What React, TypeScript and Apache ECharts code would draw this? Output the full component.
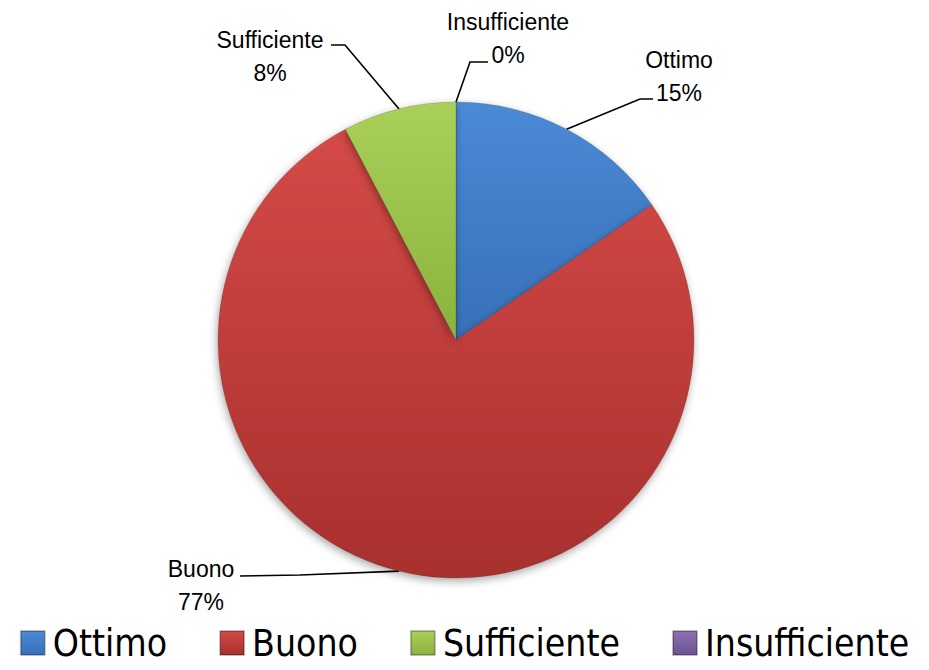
import React, { useEffect, useRef } from "react";
import * as echarts from "echarts";

const categories = ["Ottimo", "Buono", "Sufficiente", "Insufficiente"];
const counts = [2, 10, 1, 0];

const topColors = ["#4b8ad6", "#d44a47", "#a9d058", "#8c70b0"];
const bottomColors = ["#3770b8", "#a8302e", "#8bb23c", "#6d5294"];

// label box centres (layout only)
const labelCentres: [number, number][] = [
  [679, 76],
  [201, 585],
  [270, 56],
  [508, 38],
];

export default function App() {
  const ref = useRef<HTMLDivElement>(null);
  useEffect(() => {
    if (!ref.current) return;
    const chart = echarts.init(ref.current, undefined, { renderer: "svg" });
    const cx = 456;
    const cy = 340;
    const r = 238;
    const total = counts.reduce((a, b) => a + b, 0);
    const anchors: [number, number][] = [];
    let acc = 0;
    counts.forEach((v) => {
      const mid = ((acc + v / 2) / total) * Math.PI * 2;
      anchors.push([cx + r * Math.sin(mid), cy - r * Math.cos(mid)]);
      acc += v;
    });

    const data = categories.map((name, i) => ({
      name,
      value: counts[i],
      itemStyle: {
        color: new echarts.graphic.LinearGradient(0, 0, 0, 1, [
          { offset: 0, color: topColors[i] },
          { offset: 1, color: bottomColors[i] },
        ]),
      },
    }));

    chart.setOption({
      animation: false,
      backgroundColor: "#ffffff",
      legend: {
        data: categories,
        left: "center",
        top: 618,
        icon: "rect",
        itemWidth: 24,
        itemHeight: 24,
        itemGap: 52,
        textStyle: {
          fontFamily: "'DejaVu Sans Condensed', 'Liberation Sans', sans-serif",
          fontSize: 37,
          lineHeight: 40,
          color: "#000",
          padding: [0, 0, 0, 3],
        },
      },
      series: [
        {
          type: "pie",
          center: [cx, cy],
          radius: r,
          startAngle: 90,
          clockwise: true,
          avoidLabelOverlap: false,
          data,
          itemStyle: {
            borderColor: "rgba(0,0,0,0.25)",
            borderWidth: 0.6,
            shadowBlur: 8,
            shadowOffsetX: -1,
            shadowOffsetY: 3,
            shadowColor: "rgba(0,0,0,0.35)",
          },
          label: {
            show: true,
            position: "outside",
            overflow: "none",
            formatter: (p: any) => `${p.name}\n${Math.round(p.percent)}%`,
            fontFamily: "'Liberation Sans', Arial, sans-serif",
            fontSize: 23,
            lineHeight: 33,
            color: "#000",
          },
          labelLine: {
            show: true,
            length: 20,
            length2: 10,
            lineStyle: { color: "#000", width: 1.6 },
          },
          emphasis: { disabled: true },
          labelLayout: (params: any) => {
            const i = params.dataIndex;
            const [lx, ly] = labelCentres[i];
            const a = anchors[i];
            let pts: number[][];
            if (i === 0) {
              pts = [a, [640, 99], [653, 99]];
            } else if (i === 1) {
              pts = [a, [300, 575], [240, 576]];
            } else if (i === 2) {
              pts = [a, [345, 45], [331, 45]];
            } else {
              pts = [a, [470, 62], [488, 62]];
            }
            return {
              x: lx,
              y: ly,
              align: "center",
              verticalAlign: "middle",
              labelLinePoints: pts,
            };
          },
        },
      ],
    });
    return () => chart.dispose();
  }, []);
  return (
    <div
      ref={ref}
      style={{ position: "absolute", left: 0, top: 0, width: 929, height: 670 }}
    />
  );
}
